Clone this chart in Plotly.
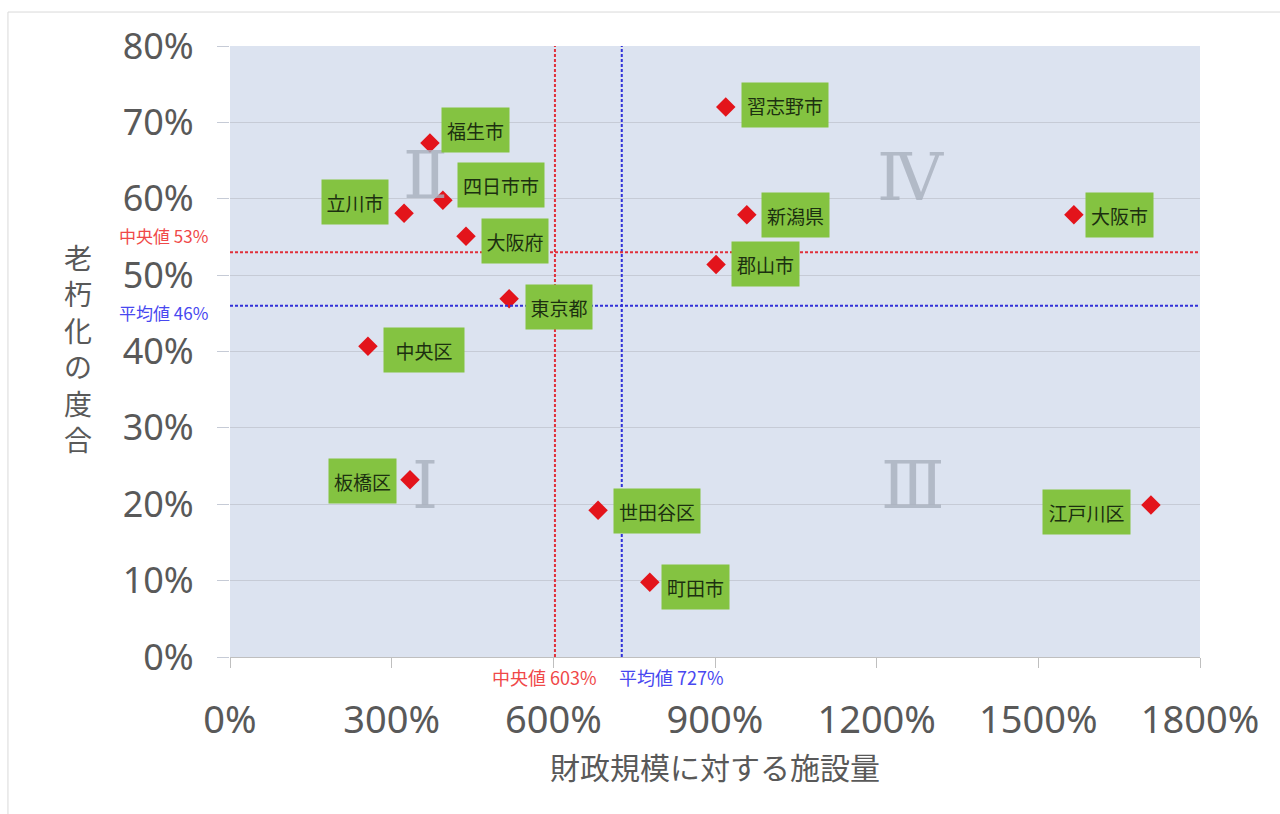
import plotly.graph_objects as go

# 施設量（財政規模比, %）と老朽化の度合（%）
names = ["福生市", "四日市市", "立川市", "大阪府", "東京都", "中央区", "板橋区",
         "世田谷区", "町田市", "習志野市", "新潟県", "郡山市", "大阪市", "江戸川区"]
facility_ratio = [371, 395, 323, 438, 518, 256, 334, 683, 779, 920, 959, 902, 1566, 1709]
aging_degree = [67.3, 59.8, 58.1, 55.1, 46.9, 40.7, 23.2, 19.2, 9.8, 72.0, 57.9, 51.4, 57.9, 19.9]

# 基準線（中央値・平均値）
x_median, x_mean = 603, 727
y_median, y_mean = 53, 46

x_ticks = [0, 300, 600, 900, 1200, 1500, 1800]
y_ticks = [0, 10, 20, 30, 40, 50, 60, 70, 80]

quadrants = ["Ⅰ", "Ⅱ", "Ⅲ", "Ⅳ"]

# ラベル配置（点からのずれ px, 箱の幅 px）
label_dx = [46, 58, -49, 49, 50, 56, -47, 59, 46, 59, 49, 49, 46, -64]
label_dy = [13, 15, 11, -5, -8, -4, -1, -1, -5, 2, 0, 0, 0, -7]
label_w = [67, 86, 66, 66, 66, 80, 67, 86, 67, 86, 67, 67, 67, 87]
quad_pos = [(362, 22.5), (362, 63.1), (1267, 22.4), (1262, 62.8)]

JP = "Noto Sans CJK JP"
GREY = "#595959"
RED = "#e0303a"
BLUE = "#3030d8"
DASH = "3px,2px"

fig = go.Figure()

fig.add_trace(go.Scatter(
    x=facility_ratio, y=aging_degree, mode="markers",
    marker=dict(symbol="diamond", size=15, color="#e3141b", line=dict(width=0)),
    hoverinfo="text", text=names, showlegend=False,
))

shapes = [
    dict(type="line", xref="x", yref="paper", x0=x_median, x1=x_median, y0=0, y1=1,
         line=dict(color=RED, width=2, dash=DASH)),
    dict(type="line", xref="x", yref="paper", x0=x_mean, x1=x_mean, y0=0, y1=1,
         line=dict(color=BLUE, width=2, dash=DASH)),
    dict(type="line", xref="paper", yref="y", x0=0, x1=1, y0=y_median, y1=y_median,
         line=dict(color=RED, width=2, dash=DASH)),
    dict(type="line", xref="paper", yref="y", x0=0, x1=1, y0=y_mean, y1=y_mean,
         line=dict(color=BLUE, width=2, dash=DASH)),
    # 外枠
    dict(type="rect", xref="paper", yref="paper", x0=-0.2289, x1=1.09, y0=-0.27, y1=1.0556,
         line=dict(color="#d9d9d9", width=1), layer="below"),
]

annotations = []
for (qx, qy), q in zip(quad_pos, quadrants):
    annotations.append(dict(
        x=qx, y=qy, xref="x", yref="y", text=q, showarrow=False,
        font=dict(family="DejaVu Serif", size=66, color="rgba(168,175,189,0.8)"),
    ))

for n, x, y, dx, dy, w in zip(names, facility_ratio, aging_degree, label_dx, label_dy, label_w):
    annotations.append(dict(
        x=x, y=y, xref="x", yref="y", text=n, showarrow=False,
        xshift=dx, yshift=dy, width=w, height=44, bgcolor="#84c341",
        borderpad=0, align="center", valign="middle",
        font=dict(family=JP, size=19, color="#1c3010"),
    ))

annotations += [
    dict(x=-0.021, y=y_median, xref="paper", yref="y", xanchor="right", yanchor="bottom",
         yshift=2, text=f"中央値 {y_median}%", showarrow=False,
         font=dict(family=JP, size=17, color="#f04848")),
    dict(x=-0.021, y=y_mean, xref="paper", yref="y", xanchor="right", yanchor="middle",
         yshift=-7, text=f"平均値 {y_mean}%", showarrow=False,
         font=dict(family=JP, size=17, color="#4848f0")),
    dict(x=x_median, y=0, xref="x", yref="paper", xanchor="center", yanchor="middle",
         xshift=-10, yshift=-20, text=f"中央値 {x_median}%", showarrow=False,
         font=dict(family=JP, size=18, color="#f04848")),
    dict(x=x_mean, y=0, xref="x", yref="paper", xanchor="left", yanchor="middle",
         xshift=-5, yshift=-20, text=f"平均値 {x_mean}%", showarrow=False,
         font=dict(family=JP, size=18, color="#4848f0")),
    # 縦書きの軸タイトル
    dict(x=-0.157, y=0.5, xref="paper", yref="paper", xanchor="center", yanchor="middle",
         yshift=4, text="<br>".join("老朽化の度合"), showarrow=False,
         font=dict(family=JP, size=28, color=GREY)),
]

fig.update_layout(
    width=1280, height=814,
    margin=dict(l=230, r=80, t=46, b=157),
    paper_bgcolor="white", plot_bgcolor="#dce3f0",
    font=dict(family=f"Noto Sans, {JP}", color=GREY),
    shapes=shapes, annotations=annotations,
    xaxis=dict(
        range=[0, 1800], tickvals=x_ticks, ticktext=[f"{v}%" for v in x_ticks],
        showgrid=False, zeroline=False, showline=True, linecolor="#bfbfbf", linewidth=1,
        ticks="outside", ticklen=10, tickcolor="#bfbfbf", ticklabelstandoff=19,
        tickfont=dict(size=38, color=GREY),
        title=dict(text="財政規模に対する施設量", font=dict(family=JP, size=30, color=GREY), standoff=12),
    ),
    yaxis=dict(
        range=[0, 80], tickvals=y_ticks, ticktext=[f"{v}%" for v in y_ticks],
        showgrid=True, gridcolor="#c6cbd6", gridwidth=1, zeroline=False, showline=False,
        ticks="outside", ticklen=12, tickcolor="#c6cbd6", ticklabelstandoff=16,
        tickfont=dict(size=36, color=GREY),
    ),
)

fig.write_html("out.html")
